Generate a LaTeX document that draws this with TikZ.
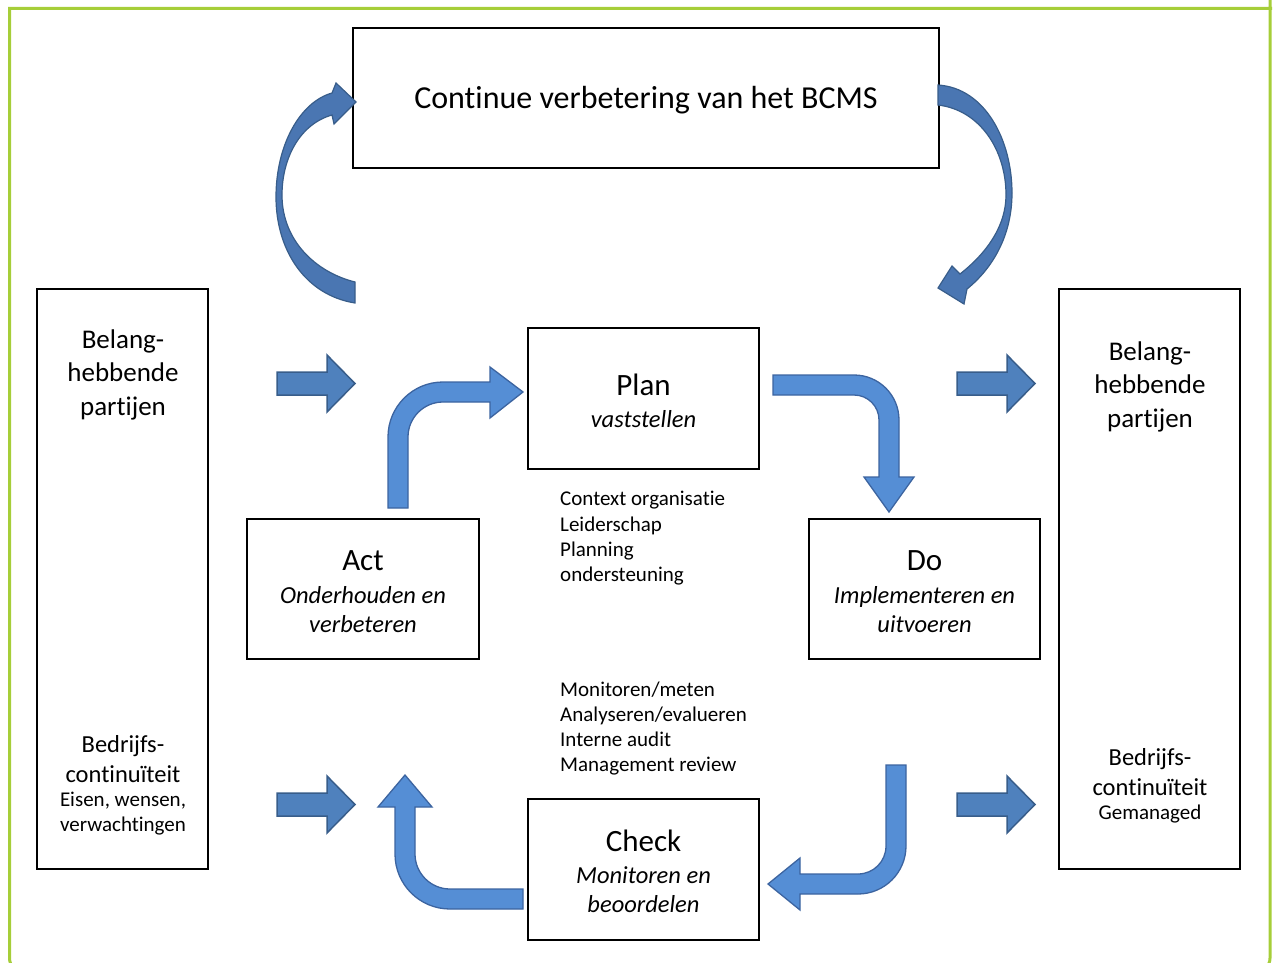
\documentclass[tikz,border=0pt]{standalone}
\usepackage{fontspec}
\setmainfont{Carlito}[Ligatures=NoCommon]
\definecolor{framegreen}{RGB}{166,206,57}
\definecolor{arrfill}{RGB}{79,129,189}
\definecolor{arrline}{RGB}{56,93,138}
\definecolor{bentfill}{RGB}{85,142,213}
\definecolor{bentline}{RGB}{60,100,160}
\definecolor{curvefill}{RGB}{74,118,178}
\begin{document}
\begin{tikzpicture}[x=1pt,y=-1pt,
  box/.style={draw=black, line width=2.5pt, fill=white, inner sep=0pt},
  blockarrow/.style={fill=arrfill, draw=arrline, line width=1.5pt, line join=miter},
  bentarrow/.style={fill=bentfill, draw=bentline, line width=1.3pt, line join=miter},
  curvearrow/.style={fill=curvefill, draw=arrline, line width=1.2pt, line join=miter},
  ttl/.style={font=\fontsize{31}{34}\selectfont, inner sep=0pt},
  sub/.style={font=\fontsize{24.5}{29}\selectfont\itshape, align=center, inner sep=0pt},
  side/.style={font=\fontsize{27}{33.5}\selectfont, align=center, inner sep=0pt},
  sideb/.style={font=\fontsize{24.5}{30}\selectfont, align=center, inner sep=0pt},
  small/.style={font=\fontsize{21}{25.5}\selectfont, align=center, inner sep=0pt},
  list/.style={font=\fontsize{21}{25.3}\selectfont, align=left, inner sep=0pt, anchor=west},
  rarrow/.pic={\path[blockarrow] (-78,-11.5) -- (-28,-11.5) -- (-28,-28.5) -- (0,0) -- (-28,28.5) -- (-28,11.5) -- (-78,11.5) -- cycle;}
]
\useasboundingbox (0,0) rectangle (1274,963);
% green frame
\draw[framegreen, line width=3pt, rounded corners=14pt] (1270,-20) -- (1270,972) -- (9.5,972) [sharp corners] -- (9.5,8.5) -- (1272,8.5);

% boxes
\node[box, minimum width=586pt, minimum height=140pt] (top) at (646,98) {};
\node[box, minimum width=171pt, minimum height=580pt] (left) at (122.5,579) {};
\node[box, minimum width=181pt, minimum height=580pt] (right) at (1149.5,579) {};
\node[box, minimum width=231pt, minimum height=141pt] (plan) at (643.5,398.5) {};
\node[box, minimum width=232pt, minimum height=140pt] (act) at (363,589) {};
\node[box, minimum width=231pt, minimum height=140pt] (do) at (924.5,589) {};
\node[box, minimum width=231pt, minimum height=141pt] (check) at (643.5,869.5) {};

% texts
\node[ttl, font=\fontsize{32}{34}\selectfont] (toptxt) at (646,100) {Continue verbetering van het BCMS};
\node[side] (lefttop) at (123,374.5) {Belang-\\hebbende\\partijen};
\node[sideb] (leftbc) at (123,759) {Bedrijfs-\\continuïteit};
\node[small] (leftew) at (123,813.5) {Eisen, wensen,\\verwachtingen};
\node[side] (righttop) at (1150,386.5) {Belang-\\hebbende\\partijen};
\node[sideb] (rightbc) at (1150,772) {Bedrijfs-\\continuïteit};
\node[small] (rightgm) at (1150,814) {Gemanaged};

\node[ttl] (plant) at (643.5,385) {Plan};
\node[sub] (plans) at (643.5,419) {vaststellen};
\node[ttl] (actt) at (363,561) {Act};
\node[sub] (acts) at (363,609.5) {Onderhouden en\\verbeteren};
\node[ttl] (dot) at (924.5,561) {Do};
\node[sub] (dos) at (924.5,609.5) {Implementeren en\\uitvoeren};
\node[ttl] (checkt) at (643.5,841) {Check};
\node[sub] (checks) at (643.5,889.5) {Monitoren en\\beoordelen};

\node[list] (list1) at (560,538.5) {Context organisatie\\Leiderschap\\Planning\\ondersteuning};
\node[list] (list2) at (560,728.5) {Monitoren/meten\\Analyseren/evalueren\\Interne audit\\Management review};

% straight block arrows
\pic (a1) at (355,383.5) {rarrow};
\pic (a2) at (355,804.5) {rarrow};
\pic (a3) at (1035,383.5) {rarrow};
\pic (a4) at (1035,804.5) {rarrow};

% bent arrows
% Act -> Plan
\path[bentarrow] (388,508) -- (388,437) .. controls (388,406.6) and (412.6,382) .. (443,382)
  -- (490,382) -- (490,367) -- (523,392) -- (490,418) -- (490,402) -- (443,402)
  .. controls (423.7,402) and (408,417.7) .. (408,437) -- (408,508) -- cycle;
% Plan -> Do
\path[bentarrow] (773,375) -- (854,375) .. controls (878.9,375) and (899,395.1) .. (899,420)
  -- (899,477) -- (914,477) -- (889,512) -- (864,477) -- (879,477) -- (879,420)
  .. controls (879,406.2) and (867.8,395) .. (854,395) -- (773,395) -- cycle;
% Check -> Act
\path[bentarrow] (523,889) -- (450,889) .. controls (430.7,889) and (415,873.3) .. (415,854)
  -- (415,807) -- (432,807) -- (405,775) -- (378,807) -- (395,807) -- (395,854)
  .. controls (395,884.4) and (419.6,909) .. (450,909) -- (523,909) -- cycle;
% Do -> Check
\path[bentarrow] (886,765) -- (906,765) -- (906,846) .. controls (906,872.5) and (884.5,894) .. (858,894)
  -- (800,894) -- (800,910) -- (768,884) -- (800,858) -- (800,874) -- (858,874)
  .. controls (873.5,874) and (886,861.5) .. (886,846) -- cycle;

% curved arrows
\path[curvearrow] (355,303) -- (355,282) .. controls (315,272) and (282,240) .. (282,195)
  .. controls (282,158) and (300,124) .. (332,115) -- (334,124) -- (356,102) -- (336,83) -- (332,93)
  .. controls (300,102) and (276,145) .. (276,197) .. controls (276,250) and (305,295) .. (355,303) -- cycle;
\path[curvearrow] (938,85) .. controls (985,88) and (1012,140) .. (1012,193)
  .. controls (1012,235) and (993,268) .. (967,289) -- (964,304) -- (938,288) -- (952,266) -- (960,274)
  .. controls (988,252) and (1006,225) .. (1006,195) .. controls (1006,150) and (980,110) .. (938,105) -- cycle;
\end{tikzpicture}
\end{document}
